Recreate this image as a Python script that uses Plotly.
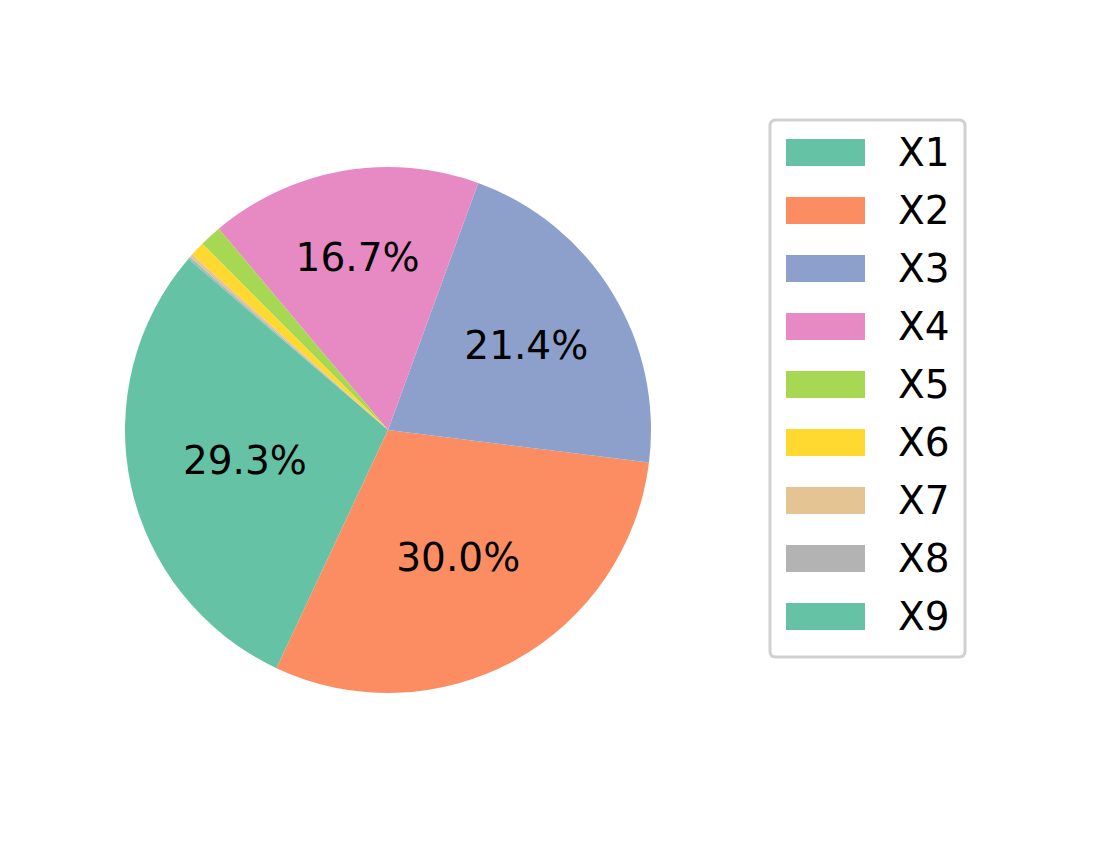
import plotly.graph_objects as go

LABELS = ["X1", "X2", "X3", "X4", "X5", "X6", "X7", "X8", "X9"]
VALUES = [29.3, 30.0, 21.4, 16.7, 1.35, 0.9, 0.2, 0.1, 0.05]
COLORS = ["#66c2a5", "#fc8d62", "#8da0cb", "#e78ac3", "#a6d854",
          "#ffd92f", "#e5c494", "#b3b3b3", "#66c2a5"]

FONT = "DejaVu Sans"
W, H = 1104, 853
OFF = 8  # page body margin

total = sum(VALUES)
# only label slices that are big enough, like the source chart
texts = [f"{100 * v / total:.1f}%" if 100 * v / total > 5 else "" for v in VALUES]


def px(x):
    return (x - OFF) / W


def py(y):
    return 1 - (y - OFF) / H


fig = go.Figure()
fig.add_trace(
    go.Pie(
        labels=LABELS,
        values=VALUES,
        text=texts,
        textinfo="text",
        textposition="inside",
        insidetextorientation="horizontal",
        textfont=dict(family=FONT, size=39, color="black"),
        marker=dict(colors=COLORS, line=dict(width=0)),
        sort=False,
        direction="counterclockwise",
        rotation=-154.9,
        domain=dict(x=[px(125), px(651)], y=[py(693), py(167)]),
        showlegend=False,
        hoverinfo="label+percent",
    )
)

# legend drawn by hand so the swatches are wide boxes
box_l, box_t, box_r, box_b = 770, 120, 965, 657
rad = 6
path = (
    f"M {box_l + rad},{box_t} L {box_r - rad},{box_t} Q {box_r},{box_t} {box_r},{box_t + rad} "
    f"L {box_r},{box_b - rad} Q {box_r},{box_b} {box_r - rad},{box_b} "
    f"L {box_l + rad},{box_b} Q {box_l},{box_b} {box_l},{box_b - rad} "
    f"L {box_l},{box_t + rad} Q {box_l},{box_t} {box_l + rad},{box_t} Z"
)


def ppath(p):
    # convert pixel path to paper coords
    out = []
    for tok in p.split(" "):
        if "," in tok:
            a, b = tok.split(",")
            out.append(f"{px(float(a)):.5f},{py(float(b)):.5f}")
        else:
            out.append(tok)
    return " ".join(out)


shapes = [
    dict(type="path", xref="paper", yref="paper", path=ppath(path),
         line=dict(color="#d0d0d0", width=3), fillcolor="white", layer="below")
]
annotations = []
for i, (lab, col) in enumerate(zip(LABELS, COLORS)):
    cy = 152.5 + 58 * i
    shapes.append(
        dict(type="rect", xref="paper", yref="paper",
             x0=px(786), x1=px(865), y0=py(cy + 13.5), y1=py(cy - 13.5),
             fillcolor=col, line=dict(width=0))
    )
    annotations.append(
        dict(x=px(896), y=py(cy), xref="paper", yref="paper", text=lab,
             showarrow=False, xanchor="left", yanchor="middle",
             font=dict(family=FONT, size=39, color="black"))
    )

fig.update_layout(
    width=W,
    height=H,
    margin=dict(l=0, r=0, t=0, b=0),
    paper_bgcolor="white",
    plot_bgcolor="white",
    shapes=shapes,
    annotations=annotations,
    showlegend=False,
    font=dict(family=FONT),
)

fig.write_html("out.html")
